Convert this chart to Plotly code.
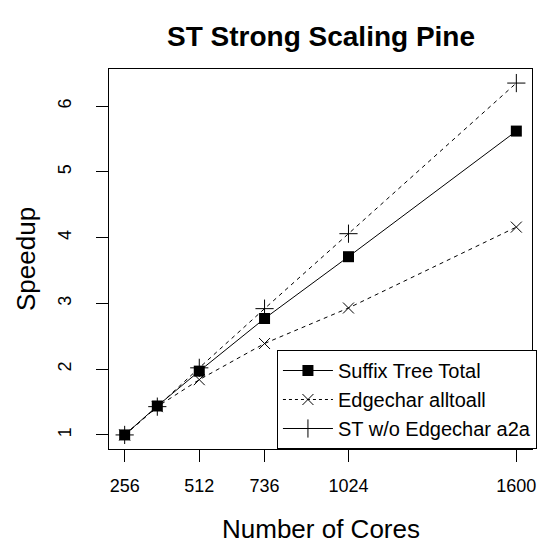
import plotly.graph_objects as go

cores = [256, 368, 512, 736, 1024, 1600]
suffix_total = [1.00, 1.44, 1.97, 2.77, 3.71, 5.62]
edgechar_a2a = [1.00, 1.43, 1.84, 2.39, 2.93, 4.16]
st_wo_edgechar = [1.00, 1.43, 2.02, 2.92, 4.06, 6.35]
x_ticks = [256, 512, 736, 1024, 1600]
y_ticks = [1, 2, 3, 4, 5, 6]
names = ["Suffix Tree Total", "Edgechar alltoall", "ST w/o Edgechar a2a"]

FONT = "Liberation Sans, Arial, Helvetica, sans-serif"

def rrange(vals):
    lo, hi = min(vals), max(vals)
    d = (hi - lo) * 0.04
    return [lo - d, hi + d]

xr = rrange(cores)
yr = rrange(suffix_total + edgechar_a2a + st_wo_edgechar)

fig = go.Figure()
# data traces
fig.add_trace(go.Scatter(x=cores, y=suffix_total, mode="lines+markers", showlegend=False,
                         line=dict(color="black", width=1),
                         marker=dict(symbol="square", size=11, color="black")))
fig.add_trace(go.Scatter(x=cores, y=edgechar_a2a, mode="lines+markers", showlegend=False,
                         line=dict(color="black", width=1, dash="4px,4px"),
                         marker=dict(symbol="x-thin", size=11, color="black",
                                     line=dict(color="black", width=1))))
fig.add_trace(go.Scatter(x=cores, y=st_wo_edgechar, mode="lines+markers", showlegend=False,
                         line=dict(color="black", width=1, dash="4px,4px"),
                         marker=dict(symbol="cross-thin", size=13, color="black",
                                     line=dict(color="black", width=1))))
# legend entries (styled as in the original legend)
fig.add_trace(go.Scatter(x=[None], y=[None], mode="lines+markers", name=names[0],
                         line=dict(color="black", width=1),
                         marker=dict(symbol="square", size=11, color="black")))
fig.add_trace(go.Scatter(x=[None], y=[None], mode="lines+markers", name=names[1],
                         line=dict(color="black", width=1, dash="dot"),
                         marker=dict(symbol="x-thin", size=11, color="black",
                                     line=dict(color="black", width=1))))
fig.add_trace(go.Scatter(x=[None], y=[None], mode="lines+markers", name=names[2],
                         line=dict(color="black", width=1),
                         marker=dict(symbol="cross-thin", size=13, color="black",
                                     line=dict(color="black", width=1))))

pw = 545 - 109 - 8
ph = 546 - 69 - 97

fig.update_layout(
    width=545, height=546,
    margin=dict(l=109, r=8, t=69, b=97),
    paper_bgcolor="white", plot_bgcolor="white",
    font=dict(family=FONT, color="black", size=18),
    xaxis=dict(range=xr, tickvals=x_ticks, ticktext=[str(v) for v in x_ticks],
               ticks="outside", ticklen=12, tickcolor="black", tickwidth=1,
               showline=True, linecolor="black", linewidth=1, mirror=True,
               showgrid=False, zeroline=False, ticklabelstandoff=8,
               tickfont=dict(size=18)),
    yaxis=dict(range=yr, tickvals=y_ticks, ticktext=[str(v) for v in y_ticks],
               ticks="outside", ticklen=12, tickcolor="black", tickwidth=1,
               showline=True, linecolor="black", linewidth=1, mirror=True,
               showgrid=False, zeroline=False, tickangle=-90, ticklabelstandoff=18,
               tickfont=dict(size=18)),
    legend=dict(x=1 + 5 / pw, y=0, xanchor="right", yanchor="bottom",
                bordercolor="black", borderwidth=1, bgcolor="white",
                font=dict(size=20, family=FONT), itemwidth=50,
                tracegroupgap=0),
    annotations=[
        dict(text="<b>ST Strong Scaling Pine</b>", xref="paper", yref="paper",
             x=0.5, y=1 + (69 - 36) / ph, xanchor="center", yanchor="middle",
             showarrow=False, font=dict(size=28)),
        dict(text="Number of Cores", xref="paper", yref="paper",
             x=0.5, y=-(529 - 449) / ph, xanchor="center", yanchor="middle",
             showarrow=False, font=dict(size=26)),
        dict(text="Speedup", xref="paper", yref="paper", textangle=-90,
             x=-(109 - 25) / pw, y=0.5, xanchor="center", yanchor="middle",
             showarrow=False, font=dict(size=26)),
    ],
)

fig.write_html("out.html")
